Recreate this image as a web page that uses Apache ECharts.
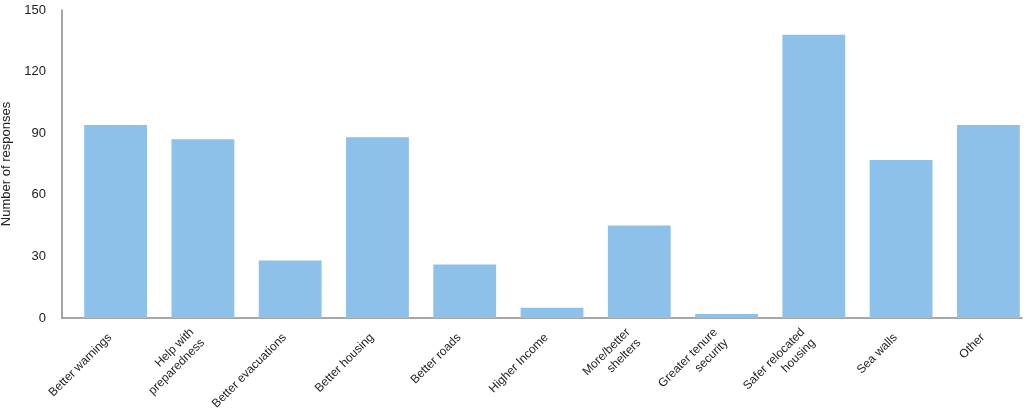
<!DOCTYPE html>
<html lang="en">
<head>
    <meta charset="UTF-8">
    <title>Number of responses</title>
    <style>
        html, body { margin: 0; padding: 0; background: #fff; }
        #chart { width: 1024px; height: 412px; }
    </style>
</head>
<body>
    <div id="chart"></div>
    <script src="https://cdn.jsdelivr.net/npm/echarts@6/dist/echarts.min.js"></script>
    <script>
        var categories = ['Better warnings', 'Help with\npreparedness', 'Better evacuations', 'Better housing',
            'Better roads', 'Higher Income', 'More/better\nshelters', 'Greater tenure\nsecurity',
            'Safer relocated\nhousing', 'Sea walls', 'Other'];
        var responses = [94, 87, 28, 88, 26, 5, 45, 2, 138, 77, 94];
        var yTicks = [0, 30, 60, 90, 120, 150];

        var font = "'Liberation Sans', Arial, sans-serif";
        var axisColor = '#8a8a8a';

        var chart = echarts.init(document.getElementById('chart'));
        chart.setOption({
            animation: false,
            grid: [
                // bars
                { left: 72, top: 10, width: 960, bottom: 94, outerBoundsMode: 'none', containLabel: false },
                // axis frame
                { left: 62, top: 10, right: 2, bottom: 94, outerBoundsMode: 'none', containLabel: false }
            ],
            xAxis: [{
                type: 'category',
                gridIndex: 0,
                data: categories,
                axisLine: { show: false },
                axisTick: { show: false },
                axisLabel: {
                    interval: 0,
                    rotate: 45,
                    margin: 12,
                    padding: [0, 8, 0, 0],
                    fontFamily: font,
                    fontSize: 12,
                    lineHeight: 15,
                    color: '#222'
                }
            }, {
                type: 'value',
                gridIndex: 1,
                min: 0,
                max: 1,
                axisLine: { show: true, lineStyle: { color: axisColor, width: 1.5 } },
                axisTick: { show: false },
                axisLabel: { show: false },
                splitLine: { show: false }
            }],
            yAxis: [{
                type: 'value',
                gridIndex: 0,
                min: yTicks[0],
                max: yTicks[yTicks.length - 1],
                show: false
            }, {
                type: 'value',
                gridIndex: 1,
                min: yTicks[0],
                max: yTicks[yTicks.length - 1],
                interval: 30,
                name: 'Number of responses',
                nameLocation: 'middle',
                nameGap: 47,
                nameTextStyle: { fontFamily: font, fontSize: 13, color: '#222' },
                axisLine: { show: true, lineStyle: { color: axisColor, width: 1.5 } },
                axisTick: { show: false },
                splitLine: { show: false },
                axisLabel: { margin: 16, fontFamily: font, fontSize: 13, color: '#222' }
            }],
            series: [{
                type: 'bar',
                xAxisIndex: 0,
                yAxisIndex: 0,
                data: responses,
                barCategoryGap: '28%',
                itemStyle: { color: '#8ec1e9' }
            }]
        });
    </script>
</body>
</html>
